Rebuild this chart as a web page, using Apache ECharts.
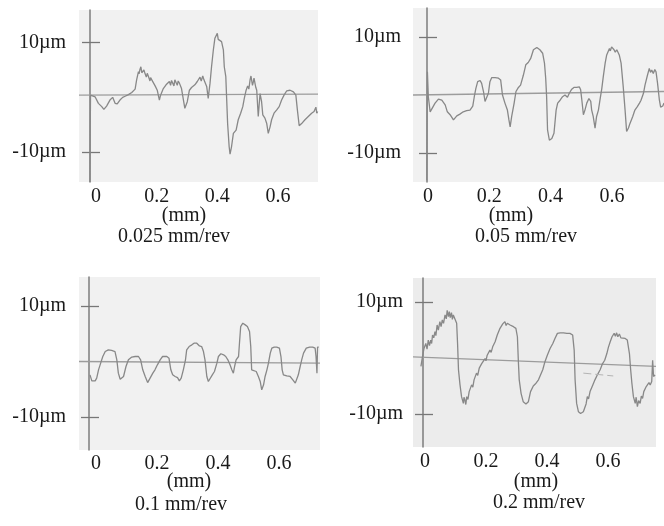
<!DOCTYPE html>
<html><head><meta charset="utf-8">
<script src="https://cdn.jsdelivr.net/npm/echarts@6/dist/echarts.min.js"></script>
<style>html,body{margin:0;padding:0;background:#fff}#c{width:664px;height:526px}</style>
</head><body><div id="c"></div>
<script>
// ---- data (x in mm, y in µm) ----
const positionTicks = [0, 0.2, 0.4, 0.6];
const heightTicks = [-10, 10];
const axisName = '(mm)';
const feedRates = ['0.025 mm/rev', '0.05 mm/rev', '0.1 mm/rev', '0.2 mm/rev'];

const profile1 = [[-0.020,-15.5],[-0.019,-6.0],[-0.018,0.4],[-0.014,0.4],[-0.003,0.1],[0.008,-1.1],[0.019,-1.7],[0.026,-2.2],[0.035,-1.6],[0.046,-0.5],[0.055,0.0],[0.063,-1.1],[0.070,-1.2],[0.079,-0.5],[0.088,0.0],[0.096,0.2],[0.107,0.5],[0.118,0.9],[0.129,1.5],[0.134,3.2],[0.140,4.7],[0.142,4.3],[0.145,5.1],[0.148,5.6],[0.151,4.5],[0.154,4.7],[0.158,5.0],[0.162,4.3],[0.166,3.7],[0.169,4.4],[0.173,3.8],[0.178,3.0],[0.180,3.6],[0.184,3.2],[0.195,2.1],[0.202,1.3],[0.209,-0.5],[0.213,0.4],[0.222,1.6],[0.231,2.3],[0.242,2.9],[0.246,2.2],[0.249,3.1],[0.253,2.6],[0.257,2.1],[0.260,3.2],[0.264,2.9],[0.268,2.2],[0.271,3.0],[0.275,2.6],[0.282,1.6],[0.288,1.3],[0.293,-2.0],[0.301,-0.8],[0.308,1.3],[0.315,1.8],[0.326,2.3],[0.334,2.9],[0.343,3.7],[0.347,3.0],[0.352,3.9],[0.356,3.2],[0.359,3.3],[0.365,2.0],[0.370,-0.2],[0.376,2.6],[0.381,5.6],[0.387,8.7],[0.392,10.8],[0.400,11.7],[0.403,10.6],[0.407,10.8],[0.414,10.2],[0.420,8.7],[0.423,5.6],[0.428,3.8],[0.431,-0.5],[0.434,-4.8],[0.439,-9.0],[0.442,-10.4],[0.447,-9.0],[0.453,-6.6],[0.462,-6.0],[0.469,-4.1],[0.477,-2.9],[0.484,-1.7],[0.489,-0.2],[0.495,1.3],[0.500,2.1],[0.504,1.5],[0.508,3.2],[0.511,3.9],[0.513,3.7],[0.516,2.2],[0.519,2.9],[0.521,3.5],[0.524,3.2],[0.527,1.8],[0.530,1.3],[0.535,-3.5],[0.541,0.7],[0.546,-0.8],[0.550,-3.2],[0.557,-3.8],[0.563,-4.8],[0.568,-6.6],[0.574,-5.4],[0.579,-4.1],[0.587,-2.9],[0.596,-2.3],[0.604,-1.7],[0.612,-0.5],[0.620,0.4],[0.629,1.2],[0.640,1.3],[0.651,1.0],[0.659,0.4],[0.664,-2.3],[0.670,-5.2],[0.678,-4.8],[0.689,-4.1],[0.700,-3.5],[0.711,-2.9],[0.719,-2.6],[0.725,-1.8],[0.728,-2.9],[0.731,-2.6]];

const profile2 = [[-0.004,-14.7],[-0.003,-4.0],[-0.002,4.0],[0.001,-0.3],[0.007,-2.9],[0.012,-2.6],[0.023,-1.4],[0.034,-0.7],[0.045,-0.9],[0.056,-1.7],[0.063,-2.9],[0.072,-3.4],[0.083,-4.3],[0.094,-3.6],[0.104,-3.3],[0.115,-2.9],[0.126,-2.7],[0.137,-2.6],[0.146,-1.9],[0.151,-0.3],[0.156,1.1],[0.162,2.3],[0.170,2.5],[0.175,2.0],[0.181,0.6],[0.186,-1.1],[0.191,-0.9],[0.197,0.3],[0.202,2.3],[0.208,3.0],[0.219,3.0],[0.230,2.9],[0.237,2.6],[0.243,0.0],[0.251,-1.4],[0.259,-2.6],[0.264,-4.3],[0.268,-5.5],[0.273,-3.7],[0.281,-1.4],[0.287,0.6],[0.295,1.3],[0.302,1.7],[0.311,3.4],[0.319,5.2],[0.327,5.6],[0.335,6.3],[0.344,7.8],[0.355,8.2],[0.365,7.8],[0.374,7.2],[0.380,5.5],[0.384,2.9],[0.387,-0.3],[0.390,-6.0],[0.396,-7.8],[0.404,-7.5],[0.411,-6.6],[0.418,-2.6],[0.423,-1.4],[0.431,-0.9],[0.439,-0.3],[0.447,0.0],[0.455,-0.4],[0.461,0.3],[0.469,1.0],[0.476,1.3],[0.485,1.3],[0.494,1.4],[0.498,0.9],[0.502,-0.9],[0.507,-3.4],[0.512,-2.6],[0.518,-1.4],[0.525,-0.6],[0.531,-1.1],[0.534,-2.6],[0.539,-3.7],[0.545,-5.7],[0.550,-3.7],[0.556,-2.6],[0.561,-0.9],[0.567,1.1],[0.572,3.2],[0.578,5.5],[0.583,6.9],[0.592,8.0],[0.595,7.6],[0.599,8.3],[0.603,8.4],[0.607,7.8],[0.611,7.4],[0.616,7.8],[0.620,8.0],[0.624,6.9],[0.630,5.5],[0.637,1.4],[0.643,-2.6],[0.648,-6.3],[0.654,-5.7],[0.659,-4.9],[0.668,-3.7],[0.675,-2.6],[0.683,-2.0],[0.690,-1.4],[0.695,-0.9],[0.703,0.3],[0.708,1.7],[0.716,3.4],[0.722,4.6],[0.726,3.9],[0.730,4.3],[0.735,3.7],[0.740,4.4],[0.744,4.0],[0.749,2.0],[0.755,-0.9],[0.759,-2.1],[0.766,-1.9],[0.770,-1.4]];

const profile3 = [[-0.020,-2.4],[-0.014,-3.5],[-0.003,-3.5],[0.002,-3.0],[0.008,-1.5],[0.015,-0.3],[0.022,0.9],[0.030,1.8],[0.040,2.1],[0.051,2.0],[0.062,1.8],[0.068,0.3],[0.073,-2.1],[0.079,-3.2],[0.084,-3.5],[0.090,-2.7],[0.098,-0.9],[0.106,0.3],[0.117,0.8],[0.128,0.9],[0.139,0.9],[0.146,0.3],[0.153,-1.5],[0.161,-2.7],[0.169,-3.8],[0.177,-3.0],[0.186,-2.1],[0.193,-1.5],[0.201,-0.6],[0.210,0.3],[0.218,0.9],[0.224,1.2],[0.232,0.9],[0.239,0.6],[0.245,-1.5],[0.251,-2.4],[0.259,-2.7],[0.267,-2.9],[0.273,-3.5],[0.279,-3.0],[0.286,-1.5],[0.293,0.3],[0.297,2.1],[0.305,2.7],[0.314,3.0],[0.321,3.3],[0.330,3.3],[0.339,2.8],[0.346,2.7],[0.352,1.8],[0.357,0.3],[0.363,-2.7],[0.368,-3.6],[0.374,-3.3],[0.381,-2.4],[0.388,-1.8],[0.396,-0.3],[0.401,0.9],[0.409,1.4],[0.418,1.2],[0.425,0.9],[0.432,0.3],[0.439,-0.6],[0.445,-1.5],[0.450,-2.1],[0.454,-0.9],[0.459,0.3],[0.467,0.9],[0.470,3.3],[0.474,6.3],[0.481,6.9],[0.489,6.6],[0.496,6.3],[0.503,5.4],[0.507,2.7],[0.510,-1.5],[0.516,-1.8],[0.525,-1.8],[0.532,-2.7],[0.538,-3.6],[0.543,-5.1],[0.549,-4.2],[0.554,-2.7],[0.560,-1.5],[0.565,-0.3],[0.571,1.5],[0.576,2.4],[0.584,2.6],[0.592,2.6],[0.601,2.4],[0.606,0.9],[0.610,-1.5],[0.614,-2.4],[0.625,-2.6],[0.636,-2.7],[0.645,-3.3],[0.653,-3.9],[0.658,-3.6],[0.663,-2.4],[0.669,-0.9],[0.674,0.3],[0.680,1.5],[0.689,2.4],[0.700,2.6],[0.710,2.6],[0.718,2.4],[0.721,0.9],[0.724,-2.1],[0.726,2.6],[0.730,2.6]];

const profile4 = [[-0.013,-1.5],[-0.008,0.2],[-0.003,1.7],[0.003,2.6],[0.007,1.6],[0.011,3.2],[0.015,2.2],[0.019,3.2],[0.022,2.6],[0.025,4.1],[0.029,3.6],[0.033,4.7],[0.036,4.0],[0.040,5.9],[0.044,5.0],[0.049,6.5],[0.053,5.6],[0.057,6.8],[0.061,6.2],[0.066,7.7],[0.070,7.0],[0.073,8.5],[0.077,7.4],[0.080,8.3],[0.083,7.2],[0.087,8.1],[0.090,6.9],[0.093,7.7],[0.095,8.0],[0.098,7.7],[0.104,6.2],[0.107,2.6],[0.110,-2.1],[0.115,-4.8],[0.120,-6.9],[0.126,-8.1],[0.128,-7.0],[0.131,-7.5],[0.134,-8.3],[0.137,-6.9],[0.141,-7.4],[0.145,-6.0],[0.149,-6.3],[0.153,-4.8],[0.157,-5.2],[0.161,-3.9],[0.165,-4.0],[0.169,-2.7],[0.173,-3.1],[0.178,-1.8],[0.182,-2.0],[0.186,-1.0],[0.191,-1.2],[0.197,-0.1],[0.200,-0.5],[0.204,0.5],[0.209,0.3],[0.213,1.4],[0.217,1.0],[0.222,2.0],[0.226,1.9],[0.230,2.9],[0.233,2.8],[0.237,4.1],[0.241,4.0],[0.246,5.3],[0.250,5.0],[0.255,6.1],[0.262,6.5],[0.266,5.8],[0.270,6.2],[0.279,5.9],[0.290,5.6],[0.298,5.3],[0.303,3.8],[0.306,-0.4],[0.309,-3.9],[0.315,-6.3],[0.322,-7.8],[0.331,-8.2],[0.339,-7.8],[0.346,-6.0],[0.355,-5.0],[0.364,-4.5],[0.372,-3.9],[0.379,-3.0],[0.386,-2.1],[0.393,-0.7],[0.401,0.5],[0.410,1.7],[0.419,2.6],[0.426,3.5],[0.434,4.4],[0.443,4.5],[0.454,4.5],[0.465,4.4],[0.475,4.4],[0.484,4.1],[0.489,1.4],[0.492,-3.9],[0.497,-8.1],[0.503,-9.6],[0.510,-9.9],[0.519,-9.6],[0.525,-9.3],[0.528,-8.2],[0.532,-6.9],[0.536,-7.3],[0.541,-6.0],[0.545,-6.1],[0.550,-4.8],[0.553,-5.0],[0.557,-3.9],[0.561,-4.2],[0.565,-3.0],[0.569,-3.2],[0.574,-2.1],[0.578,-2.0],[0.581,-1.1],[0.585,-1.3],[0.589,-0.4],[0.592,-0.2],[0.596,0.8],[0.599,0.9],[0.601,1.9],[0.604,1.8],[0.607,2.9],[0.610,2.9],[0.613,3.8],[0.617,3.6],[0.620,4.4],[0.624,3.9],[0.628,4.5],[0.632,3.8],[0.637,4.3],[0.642,3.6],[0.647,3.9],[0.656,3.5],[0.663,3.2],[0.670,0.8],[0.674,-2.1],[0.678,-4.5],[0.683,-6.9],[0.689,-8.1],[0.692,-7.0],[0.696,-8.7],[0.700,-7.6],[0.705,-8.1],[0.709,-6.8],[0.713,-7.2],[0.717,-6.0],[0.721,-6.3],[0.725,-5.1],[0.729,-5.4],[0.734,-4.4],[0.738,-4.8],[0.743,-4.2],[0.746,-0.4],[0.749,-3.3],[0.754,-3.0]];

const baseline1 = [[-0.056, 0.4], [0.732, 0.6]];
const baseline2 = [[-0.049, 0.0], [0.770, 0.6]];
const baseline3 = [[-0.056, 0.0], [0.734, -0.3]];
const baseline4 = [[-0.039, 0.2], [0.757, -1.5]];
const guideMark4 = [[0.519, -2.7], [0.617, -3.2]];

// ---- layout ----
const FONT = '"Liberation Serif", "Times New Roman", serif';
const FS = 20;
const panels = [
  {profile: profile1, base: baseline1, grid: {left: 79, top: 10, width: 239, height: 172}, x: [-0.056, 0.732], y: [-15.49, 15.98], off: -11, lm: 24, xm: 5, bg: '#f1f1f1', mm: [184, 216], feed: [174, 237]},
  {profile: profile2, base: baseline2, grid: {left: 413, top: 8, width: 251, height: 174}, x: [-0.049, 0.770], y: [-15.0, 15.0], off: -14, lm: 26, xm: 5, bg: '#f1f1f1', mm: [511, 216], feed: [526, 237]},
  {profile: profile3, base: baseline3, grid: {left: 79, top: 277, width: 241, height: 173}, x: [-0.056, 0.734], y: [-15.95, 15.23], off: -10, lm: 23, xm: 4, bg: '#f1f1f1', mm: [189, 482], feed: [181, 505]},
  {profile: profile4, base: baseline4, grid: {left: 413, top: 278, width: 243, height: 169}, x: [-0.039, 0.757], y: [-15.89, 14.29], off: -10, lm: 20, xm: 5, bg: '#ececec', mm: [536, 482], feed: [539, 503]}
];

const grids = [], xAxes = [], yAxes = [], series = [], graphics = [];
panels.forEach((p, i) => {
  grids.push(Object.assign({show: true, backgroundColor: p.bg, borderWidth: 0}, p.grid));
  xAxes.push({
    type: 'value', gridIndex: i, min: p.x[0], max: p.x[1],
    axisLine: {show: false}, axisTick: {show: false}, splitLine: {show: false},
    axisLabel: {customValues: positionTicks, formatter: v => String(v), fontFamily: FONT, fontSize: FS, color: '#1a1a1a', margin: p.xm}
  });
  yAxes.push({
    type: 'value', gridIndex: i, min: p.y[0], max: p.y[1], position: 'left', offset: p.off,
    axisLine: {show: true, onZero: false, lineStyle: {color: '#7d7d7d', width: 1.5}},
    axisTick: {show: true, inside: false, length: 8, customValues: heightTicks, lineStyle: {color: '#777', width: 1.3}},
    splitLine: {show: false},
    axisLabel: {customValues: heightTicks, formatter: v => v + 'µm', fontFamily: FONT, fontSize: FS, color: '#1a1a1a', margin: p.lm}
  });
  yAxes.push({
    type: 'value', gridIndex: i, min: p.y[0], max: p.y[1], position: 'left', offset: p.off,
    axisLine: {show: false, onZero: false},
    axisTick: {show: true, inside: true, length: 10, customValues: heightTicks, lineStyle: {color: '#777', width: 1.3}},
    splitLine: {show: false}, axisLabel: {show: false}
  });
  series.push({type: 'line', xAxisIndex: i, yAxisIndex: 2 * i, data: p.base, showSymbol: false, silent: true,
    lineStyle: {color: '#9c9c9c', width: 1.3}});
  series.push({type: 'line', xAxisIndex: i, yAxisIndex: 2 * i, data: p.profile, showSymbol: false, silent: true,
    lineStyle: {color: '#888888', width: 1.3}});
  graphics.push({type: 'text', x: p.mm[0], y: p.mm[1], style: {text: axisName, font: FS + 'px ' + FONT, fill: '#1a1a1a', align: 'center', verticalAlign: 'middle', textAlign: 'center', textVerticalAlign: 'middle'}});
  graphics.push({type: 'text', x: p.feed[0], y: p.feed[1], style: {text: feedRates[i], font: FS + 'px ' + FONT, fill: '#1a1a1a', align: 'center', verticalAlign: 'middle', textAlign: 'center', textVerticalAlign: 'middle'}});
});
series.push({type: 'line', xAxisIndex: 3, yAxisIndex: 6, data: guideMark4, showSymbol: false, silent: true,
  lineStyle: {color: '#b4b4b4', width: 1, type: [8, 4]}});

const chart = echarts.init(document.getElementById('c'), null, {renderer: 'canvas'});
chart.setOption({
  backgroundColor: '#ffffff',
  animation: false,
  grid: grids, xAxis: xAxes, yAxis: yAxes, series: series, graphic: graphics
});
</script></body></html>
